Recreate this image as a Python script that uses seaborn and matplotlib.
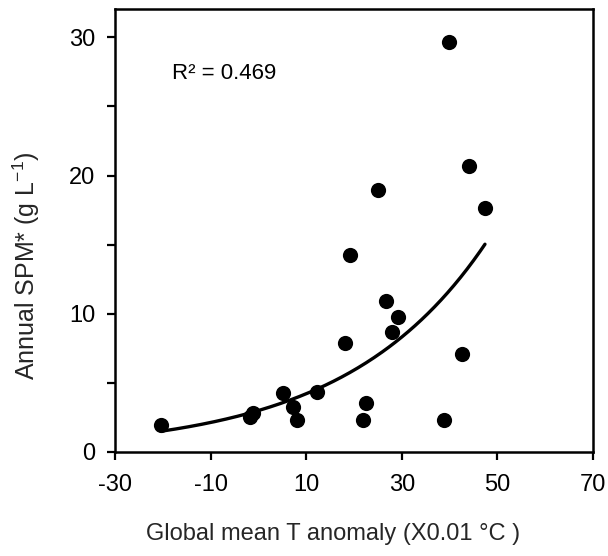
import numpy as np
import pandas as pd
import matplotlib
matplotlib.use("Agg")
import matplotlib.pyplot as plt
import seaborn as sns

# Data
temp_anomaly = [-20.4, -1.8, -1.1, 5.1, 7.2, 8.0, 12.3, 18.1, 19.1, 21.8,
                22.5, 25.0, 26.6, 27.9, 29.3, 38.8, 39.9, 42.5, 44.0, 47.4]
spm = [1.98, 2.5, 2.8, 4.29, 3.28, 2.32, 4.36, 7.89, 14.23, 2.29,
       3.55, 18.94, 10.9, 8.69, 9.77, 2.29, 29.67, 7.09, 20.68, 17.66]

# Exponential fit y = a * exp(b * x), parameters
fit_a = 3.0
fit_b = 0.034
r_squared_text = "R\u00b2 = 0.469"

x_ticks = [-30, -10, 10, 30, 50, 70]
y_major_ticks = [0, 10, 20, 30]
y_minor_ticks = [5, 15, 25]

df = pd.DataFrame({"x": temp_anomaly, "y": spm})
xf = np.linspace(min(temp_anomaly), max(temp_anomaly), 200)
fit_df = pd.DataFrame({"x": xf, "y": fit_a * np.exp(fit_b * xf)})

sns.set_style("ticks")
plt.rcParams["font.family"] = ["Liberation Sans", "DejaVu Sans"]
plt.rcParams["mathtext.fontset"] = "custom"
plt.rcParams["mathtext.rm"] = "Liberation Sans"
plt.rcParams["axes.unicode_minus"] = False

fig = plt.figure(figsize=(6.08, 5.56), dpi=100)
ax = fig.add_axes([115 / 608, 1 - 452 / 556, (593 - 115) / 608, (452 - 9) / 556])

sns.lineplot(data=fit_df, x="x", y="y", ax=ax, color="black", linewidth=2.4)
sns.scatterplot(data=df, x="x", y="y", ax=ax, color="black", s=120,
                edgecolor="black", linewidth=0, zorder=3)

ax.set_xlim(-30, 70)
ax.set_ylim(0, 32.05)
ax.set_xticks(x_ticks)
ax.set_yticks(y_major_ticks)
ax.set_yticks(y_minor_ticks, minor=True)
ax.tick_params(axis="both", which="both", direction="out", length=6, width=1.6,
               labelsize=17, color="black", labelcolor="black")
ax.tick_params(axis="x", pad=10)
ax.tick_params(axis="y", pad=8)
for sp in ax.spines.values():
    sp.set_visible(True)
    sp.set_linewidth(1.8)
    sp.set_color("black")

ax.set_xlabel("Global mean T anomaly (X0.01 \u00b0C )", fontsize=17)
ax.xaxis.set_label_coords(0.456, -0.16)
ax.set_ylabel("Annual SPM* (g L$^{-1}$)", fontsize=18)
ax.yaxis.set_label_coords(-0.152, 0.42)

ax.text(0.119, 0.855, r_squared_text, transform=ax.transAxes, fontsize=16,
        ha="left", va="center", color="black")

fig.savefig("out.png", dpi=100)
